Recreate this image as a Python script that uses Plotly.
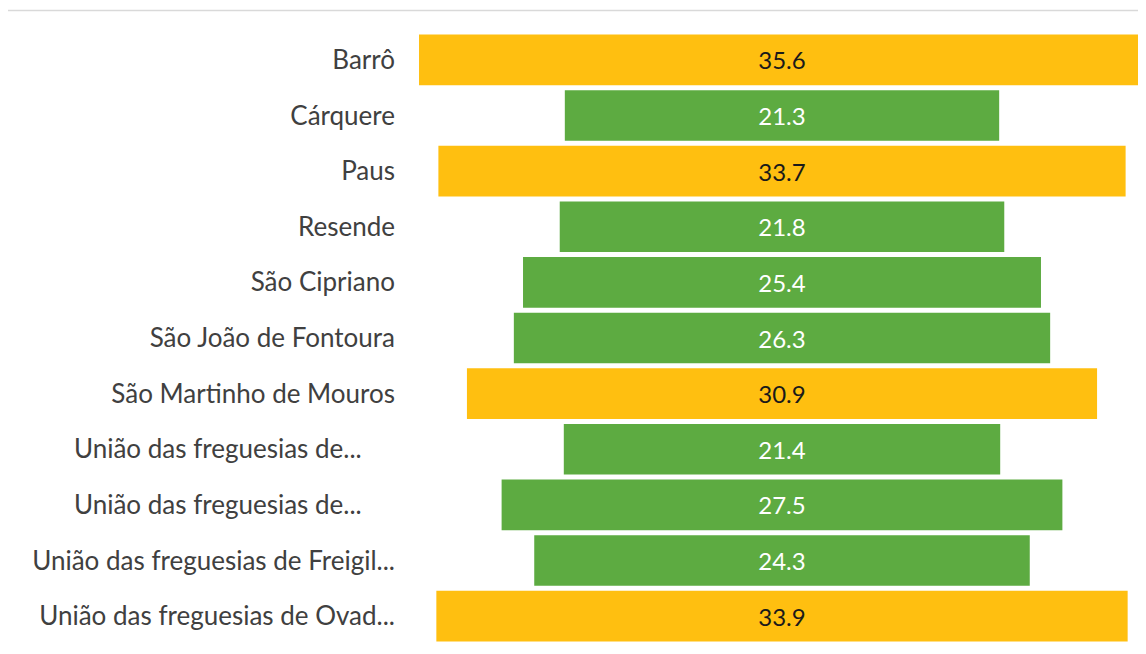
import plotly.graph_objects as go

categories = [
    "Barrô",
    "Cárquere",
    "Paus",
    "Resende",
    "São Cipriano",
    "São João de Fontoura",
    "São Martinho de Mouros",
    "União das freguesias de...",
    "União das freguesias de...",
    "União das freguesias de Freigil...",
    "União das freguesias de Ovad...",
]
values = [35.6, 21.3, 33.7, 21.8, 25.4, 26.3, 30.9, 21.4, 27.5, 24.3, 33.9]
threshold = 30

ORANGE = "#FFBF10"
GREEN = "#5DAB41"
bar_colors = [ORANGE if v >= threshold else GREEN for v in values]
text_colors = ["#1a1a1a" if v >= threshold else "#ffffff" for v in values]

# pad the short truncated labels and keep duplicates unique
ylab = []
for i, c in enumerate(categories):
    lab = c
    if c == "União das freguesias de...":
        lab = c + "\u00a0" * 5
    if lab in ylab:
        lab = lab + "\u200b"
    ylab.append(lab)

fig = go.Figure(go.Funnel(
    y=ylab,
    x=values,
    marker=dict(color=bar_colors),
    textinfo="value",
    textposition="inside",
    texttemplate="%{x:.1f}",
    textfont=dict(color=text_colors, size=24, family="Lato"),
    insidetextanchor="middle",
    constraintext="none",
    connector=dict(visible=False),
    hoverinfo="skip",
))

# page body has an 8px margin, so the figure is offset by 8px
fig.update_layout(
    width=1138, height=646,
    margin=dict(l=410, r=0, t=24, b=10),
    paper_bgcolor="white", plot_bgcolor="white",
    showlegend=False,
    funnelgap=0.09,
    font=dict(family="Lato", size=26, color="#404040"),
)
fig.update_xaxes(visible=False, range=[-17.85, 17.85])
fig.update_yaxes(showgrid=False, showline=False, ticks="", ticklabelstandoff=22,
                 tickfont=dict(size=26, color="#404040"))
fig.add_shape(type="line", xref="paper", yref="paper", x0=-1, x1=1.01, y0=1.035, y1=1.035,
              line=dict(color="#d9d9d9", width=1.5))

fig.write_html("out.html")
